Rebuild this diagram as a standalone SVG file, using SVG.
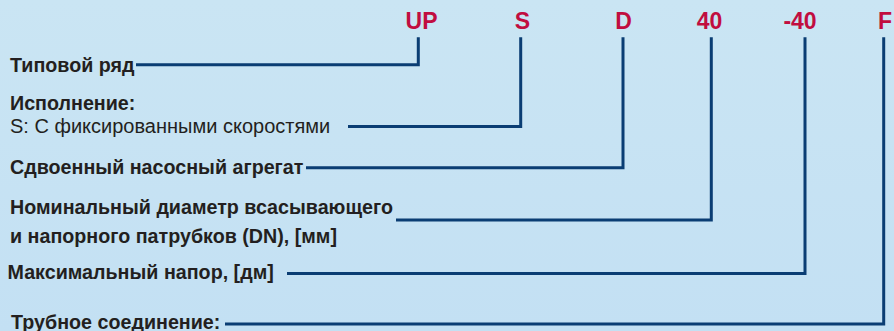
<svg xmlns="http://www.w3.org/2000/svg" width="894" height="331" viewBox="0 0 894 331">
<defs>
<linearGradient id="bg" x1="0" y1="0" x2="0" y2="1">
<stop offset="0" stop-color="#cae5f3"/>
<stop offset="1" stop-color="#c3e0f3"/>
</linearGradient>
<style>
.code{font-family:"Liberation Sans",Arial,sans-serif;font-weight:bold;font-size:23px;fill:#c10d3f;text-anchor:middle}
.lb{font-family:"Liberation Sans",Arial,sans-serif;font-weight:bold;font-size:19.7px;fill:#231f20}
.lr{font-family:"Liberation Sans",Arial,sans-serif;font-size:20px;fill:#231f20}
.conn path{fill:none;stroke:#0a3d73;stroke-width:3;stroke-linejoin:miter}
</style>
</defs>
<rect x="0" y="0" width="894" height="331" fill="url(#bg)"/>
<g id="codes">
<text class="code" x="421.5" y="29.3">UP</text>
<text class="code" x="522.5" y="29.3">S</text>
<text class="code" x="623.5" y="29.3">D</text>
<text class="code" x="709.5" y="29.3">40</text>
<text class="code" x="800" y="29.3">-40</text>
<text class="code" x="885" y="29.3">F</text>
</g>
<g id="n-series"><text class="lb" x="10" y="71.7">Типовой ряд</text></g>
<g id="n-version"><text class="lb" x="10" y="110">Исполнение:</text><text class="lr" x="10" y="133.3">S: С фиксированными скоростями</text></g>
<g id="n-twin"><text class="lb" x="10" y="174.3">Сдвоенный насосный агрегат</text></g>
<g id="n-dn"><text class="lb" x="10" y="213.5">Номинальный диаметр всасывающего</text><text class="lb" x="10" y="243">и напорного патрубков (DN), [мм]</text></g>
<g id="n-head"><text class="lb" x="7.5" y="279">Максимальный напор, [дм]</text></g>
<g id="n-conn"><text class="lb" x="11" y="328.5">Трубное соединение:</text></g>
<g class="conn" id="connectors">
<path d="M136,64.8 H418.3 V37.3"/>
<path d="M348,126.5 H520.7 V37.3"/>
<path d="M306,167.7 H623 V37.3"/>
<path d="M396,220 H711.3 V37.3"/>
<path d="M287,273.5 H805 V37.3"/>
<path d="M225,324 H883.7 V37.3"/>
</g>
</svg>
